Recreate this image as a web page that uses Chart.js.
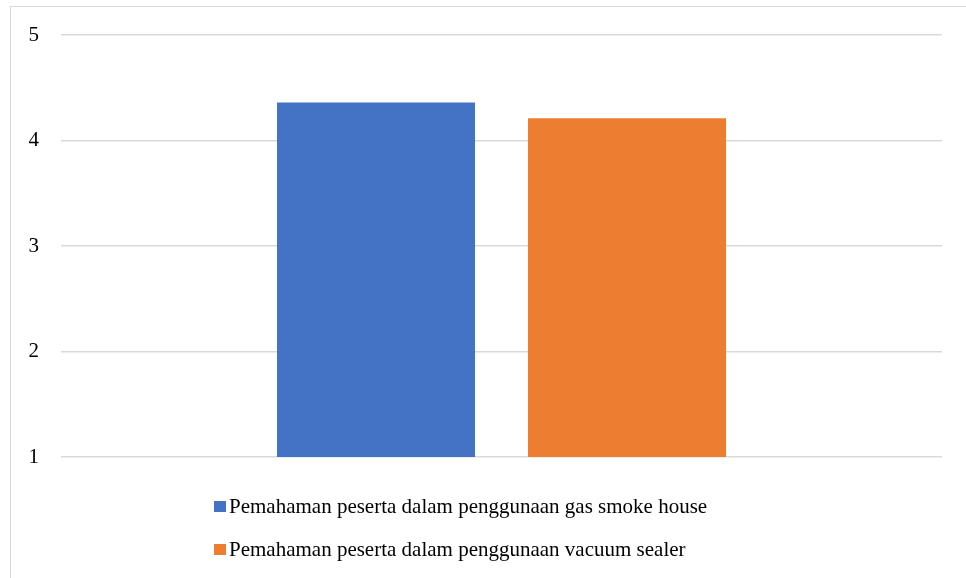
<!DOCTYPE html>
<html>
<head>
<meta charset="utf-8">
<script src="https://cdn.jsdelivr.net/npm/chart.js@4.4.1/dist/chart.umd.min.js"></script>
<style>
  html, body { margin: 0; padding: 0; background: #fff; overflow: hidden; }
  body { width: 966px; height: 578px; position: relative; font-family: "Liberation Serif", "Times New Roman", serif; }
  #frame { position: absolute; left: 10px; top: 6px; width: 980px; height: 600px; border: 1.5px solid #d9d9d9; box-sizing: border-box; }
  #wrap { position: absolute; left: 0; top: 0; width: 966px; height: 578px; }
  #legend { position: absolute; left: 214px; top: 485px; }
  .row { display: flex; align-items: center; height: 43px; font-size: 21px; color: #000; white-space: nowrap; }
  .sw { width: 11.5px; height: 11.5px; margin-right: 3.5px; flex: none; }
</style>
</head>
<body>
<div id="frame"></div>
<div id="wrap"><canvas id="c" width="966" height="578"></canvas></div>
<div id="legend"></div>
<script>
const categories = [""];
const seriesLabels = [
  "Pemahaman peserta dalam penggunaan gas smoke house",
  "Pemahaman peserta dalam penggunaan vacuum sealer"
];
const gasSmokeHouse = [4.36];
const vacuumSealer = [4.21];
const yTicks = [1, 2, 3, 4, 5];
const colors = ["#4472C4", "#ED7D31"];

const seriesValues = [gasSmokeHouse, vacuumSealer];

const chart = new Chart(document.getElementById("c"), {
  type: "bar",
  data: {
    labels: categories,
    datasets: seriesLabels.map((lab, i) => ({
      label: lab,
      data: seriesValues[i],
      backgroundColor: colors[i],
      borderWidth: 0,
      categoryPercentage: 0.5698,
      barPercentage: 0.789
    }))
  },
  options: {
    responsive: false,
    animation: false,
    devicePixelRatio: 1,
    layout: { padding: { top: 35, bottom: 121, left: 0, right: 24 } },
    plugins: { legend: { display: false }, tooltip: { enabled: false }, title: { display: false } },
    scales: {
      x: { display: false, grid: { display: false } },
      y: {
        min: yTicks[0],
        max: yTicks[yTicks.length - 1],
        afterBuildTicks: (s) => { s.ticks = yTicks.map(v => ({ value: v })); },
        afterFit: (s) => { s.width = 61; },
        border: { display: false },
        grid: { color: "#d9d9d9", lineWidth: 1.5, drawTicks: false },
        ticks: {
          padding: 22,
          color: "#000",
          font: { family: "'Liberation Serif', 'Times New Roman', serif", size: 21 }
        }
      }
    }
  }
});

const legend = document.getElementById("legend");
seriesLabels.forEach((lab, i) => {
  const row = document.createElement("div");
  row.className = "row";
  const sw = document.createElement("span");
  sw.className = "sw";
  sw.style.background = colors[i];
  const tx = document.createElement("span");
  tx.textContent = lab;
  row.appendChild(sw);
  row.appendChild(tx);
  legend.appendChild(row);
});
</script>
</body>
</html>
